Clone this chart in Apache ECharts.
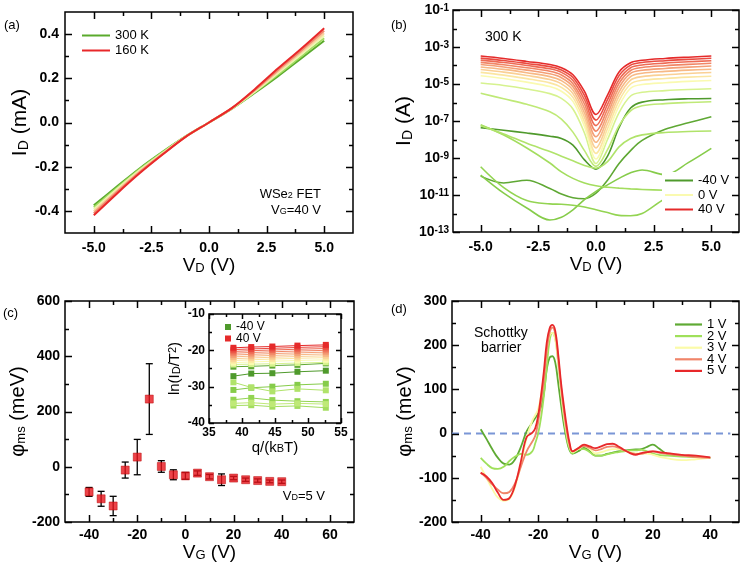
<!DOCTYPE html>
<html><head><meta charset="utf-8">
<script src="https://cdn.jsdelivr.net/npm/echarts@6/dist/echarts.min.js"></script>
<style>html,body{margin:0;padding:0;background:#fff}#c{width:745px;height:571px}</style>
</head><body><div id="c"></div>
<script>
// ---------------- DATA ----------------
// (a) I-V at VG = 40 V for several temperatures
const aVD = [-5,-4,-3,-2,-1,0,1,2,3,4,5];
const aTemps = ['300 K','270 K','240 K','210 K','185 K','160 K'];
const aID_300 = [-0.375,-0.290,-0.207,-0.132,-0.062,0,0.063,0.135,0.210,0.290,0.370];
const aID_270 = [-0.384,-0.296,-0.211,-0.134,-0.062,0,0.063,0.138,0.217,0.299,0.381];
const aID_240 = [-0.393,-0.302,-0.215,-0.137,-0.063,0,0.064,0.141,0.224,0.308,0.393];
const aID_210 = [-0.402,-0.309,-0.220,-0.139,-0.063,0,0.065,0.145,0.231,0.317,0.404];
const aID_185 = [-0.411,-0.315,-0.224,-0.142,-0.064,0,0.065,0.148,0.238,0.325,0.415];
const aID_160 = [-0.420,-0.322,-0.229,-0.144,-0.064,0,0.066,0.152,0.245,0.334,0.427];

// (b) log10(I_D / A) vs VD at 300 K, for VG = -40 ... 40 V
const bVD = [-5,-4,-3,-2,-1.5,-1,-0.5,0,0.5,1,1.5,2,3,4,5];
const bVG = [-40,-35,-30,-25,-20,-15,-10,-5,0,5,10,15,20,25,30,35,40];
const bLog_m40 = [-7.36,-7.50,-7.65,-7.82,-7.94,-8.30,-9.10,-9.60,-8.90,-7.35,-6.30,-5.98,-5.85,-5.80,-5.78];
const bLog_m35 = [-9.98,-10.35,-10.20,-10.65,-10.95,-11.15,-11.20,-10.90,-10.20,-9.30,-8.60,-8.05,-7.45,-7.10,-6.77];
const bLog_m30 = [-9.92,-10.90,-11.70,-12.35,-12.20,-11.80,-11.25,-10.80,-10.45,-10.10,-9.80,-9.65,-9.90,-9.25,-8.48];
const bLog_m25 = [-9.47,-10.60,-11.30,-11.48,-11.50,-11.55,-11.65,-11.80,-11.95,-12.10,-12.12,-12.00,-11.20,-10.75,-10.50];
const bLog_m20 = [-7.20,-7.76,-8.46,-9.27,-9.75,-10.10,-10.35,-10.50,-10.58,-10.63,-10.67,-10.70,-10.74,-10.77,-10.78];
const bLog_m15 = [-7.25,-7.70,-8.20,-8.65,-8.90,-9.15,-9.40,-9.55,-9.20,-8.40,-7.95,-7.75,-7.62,-7.57,-7.54];
const bLog_m10 = [-5.50,-5.80,-6.10,-6.50,-6.90,-7.60,-8.60,-9.45,-8.55,-7.25,-6.45,-6.18,-6.06,-6.00,-5.96];
const bLog_m5  = [-4.95,-5.08,-5.27,-5.52,-5.78,-6.35,-7.65,-9.30,-8.00,-6.55,-5.65,-5.45,-5.36,-5.30,-5.26];
const bLog_0   = [-4.55,-4.70,-4.90,-5.14,-5.39,-5.94,-7.30,-9.05,-7.70,-6.18,-5.23,-5.03,-4.93,-4.86,-4.81];
const bLog_p5  = [-4.37,-4.52,-4.71,-4.94,-5.18,-5.72,-7.05,-8.75,-7.42,-5.91,-5.00,-4.80,-4.70,-4.63,-4.58];
const bLog_p10 = [-4.22,-4.36,-4.54,-4.76,-4.99,-5.52,-6.80,-8.45,-7.15,-5.66,-4.79,-4.60,-4.50,-4.43,-4.38];
const bLog_p15 = [-4.08,-4.21,-4.39,-4.60,-4.82,-5.33,-6.56,-8.15,-6.88,-5.42,-4.60,-4.42,-4.32,-4.25,-4.20];
const bLog_p20 = [-3.95,-4.08,-4.25,-4.45,-4.66,-5.15,-6.32,-7.85,-6.62,-5.19,-4.43,-4.26,-4.16,-4.09,-4.03];
const bLog_p25 = [-3.83,-3.96,-4.12,-4.31,-4.51,-4.98,-6.08,-7.55,-6.36,-4.97,-4.27,-4.11,-4.01,-3.94,-3.88];
const bLog_p30 = [-3.71,-3.84,-4.00,-4.18,-4.37,-4.81,-5.85,-7.25,-6.10,-4.76,-4.12,-3.97,-3.87,-3.80,-3.74];
const bLog_p35 = [-3.60,-3.73,-3.89,-4.06,-4.24,-4.65,-5.62,-6.95,-5.85,-4.55,-3.98,-3.84,-3.74,-3.67,-3.61];
const bLog_p40 = [-3.49,-3.62,-3.78,-3.95,-4.12,-4.50,-5.40,-6.65,-5.60,-4.35,-3.85,-3.72,-3.62,-3.55,-3.49];

// (c) barrier height vs VG at VD = 5 V
const cVG  = [-40,-35,-30,-25,-20,-15,-10,-5,0,5,10,15,20,25,30,35,40];
const cPhi = [-91,-116,-142,-12,35,245,1,-29,-33,-23,-36,-47,-41,-47,-50,-53,-54];
const cErr = [16,27,35,29,64,128,21,18,12,8,8,21,6,6,6,5,6];

// (c) inset: ln(I_D/T^2) vs q/(kB T)
const insX = [38.7,41.4,44.6,48.4,52.7];
const ins_m40 = [-27.1,-26.4,-26.3,-25.9,-25.6];
const ins_m35 = [-24.5,-24.4,-24.2,-24.0,-23.6];
const ins_m30 = [-30.9,-30.3,-30.0,-29.5,-29.2];
const ins_m25 = [-33.6,-33.1,-33.7,-34.0,-34.2];
const ins_m20 = [-35.2,-35.1,-35.5,-35.3,-35.8];
const ins_m15 = [-28.8,-30.2,-31.3,-30.6,-31.0];
const ins_m10 = [-34.6,-34.4,-34.8,-34.6,-34.8];
const ins_m5  = [-23.9,-23.8,-23.7,-23.5,-23.3];
const ins_0   = [-23.4,-23.2,-23.0,-22.8,-22.6];
const ins_p5  = [-22.8,-22.6,-22.4,-22.2,-22.0];
const ins_p10 = [-22.3,-22.1,-21.9,-21.7,-21.5];
const ins_p15 = [-21.8,-21.6,-21.4,-21.2,-21.0];
const ins_p20 = [-21.3,-21.1,-20.9,-20.7,-20.5];
const ins_p25 = [-20.8,-20.6,-20.4,-20.2,-20.0];
const ins_p30 = [-20.3,-20.1,-19.9,-19.7,-19.5];
const ins_p35 = [-19.8,-19.6,-19.45,-19.2,-19.0];
const ins_p40 = [-19.3,-19.1,-18.95,-18.7,-18.5];

// (d) barrier height vs VG for VD = 1..5 V
const dVG = [-40,-38,-36,-34,-32,-30,-28,-26,-24,-22,-21,-20,-19,-18,-17,-16,-15,-14,-13,-12,-11,-10,-9,-8,-6,-4,-2,0,2,4,6,8,10,12,14,16,18,20,22,25,30,35,40];
const dVD = ['1 V','2 V','3 V','4 V','5 V'];
const dPhi_1 = [10,-12,-35,-55,-68,-70,-58,-30,5,25,35,45,60,90,145,172,175,160,115,65,20,-15,-38,-45,-40,-32,-40,-50,-50,-46,-43,-40,-38,-37,-36,-35,-30,-25,-33,-46,-50,-52,-55];
const dPhi_2 = [-55,-68,-78,-80,-75,-62,-52,-46,-48,-40,-22,0,35,85,150,210,228,215,160,95,35,-10,-35,-45,-35,-35,-42,-50,-50,-47,-44,-42,-40,-38,-38,-37,-40,-45,-48,-50,-52,-53,-55];
const dPhi_3 = [-75,-100,-125,-145,-152,-148,-120,-70,-10,30,42,55,85,130,190,222,228,212,160,95,40,0,-30,-42,-35,-28,-35,-45,-42,-38,-35,-35,-38,-42,-45,-45,-45,-48,-52,-56,-60,-58,-55];
const dPhi_4 = [-88,-100,-115,-127,-135,-132,-112,-75,-40,-18,-5,25,70,120,185,228,240,225,170,105,50,5,-28,-40,-33,-28,-32,-38,-35,-30,-29,-32,-38,-43,-46,-46,-42,-40,-43,-46,-50,-53,-55];
const dPhi_5 = [-89,-97,-112,-134,-150,-146,-116,-63,-8,2,12,40,85,140,205,238,246,232,180,115,62,15,-22,-40,-33,-25,-29,-33,-29,-24,-23,-29,-37,-44,-48,-44,-42,-40,-42,-44,-48,-50,-54];

// tick values
const aXTicks = [-5,-2.5,0,2.5,5];
const aXMinor = [-3.75,-1.25,1.25,3.75];
const aYTicks = [-0.4,-0.2,0,0.2,0.4];
const aYMinor = [-0.3,-0.1,0.1,0.3];
const bYTickExp = [-13,-11,-9,-7,-5,-3,-1];
const bYMinorExp = [-12,-10,-8,-6,-4,-2];
const cXTicks = [-40,-20,0,20,40,60];
const cXMinor = [-30,-10,10,30,50];
const cYTicks = [-200,0,200,400,600];
const cYMinor = [-100,100,300,500];
const insXTicks = [35,40,45,50,55];
const insXMinor = [37.5,42.5,47.5,52.5];
const insYTicks = [-40,-30,-20,-10];
const insYMinor = [-35,-25,-15];
const dXTicks = [-40,-20,0,20,40];
const dXMinor = [-30,-10,10,30];
const dYTicks = [-200,-100,0,100,200,300];
const dYMinor = [-150,-50,50,150,250];

// ---------------- STYLE ----------------
const FONT = 'Liberation Sans, Arial, Helvetica, sans-serif';
const aColors = ['#5aaa2c','#a2dc62','#eef7b0','#f9cf9c','#f08a6e','#e8282a'];
const vgColors = ['#4f9a2c','#5fa834','#86cc4a','#93d452','#a3dd5e','#b0e36a','#bfe977','#d6f28f','#fafab0',
  '#fbe6a2','#fad095','#f7b986','#f4a077','#f18666','#ee6a54','#ea4b40','#e52a2a'];
const dColors = ['#5faa34','#9fe05a','#fbfba8','#f0856a','#e8282a'];

const grids = [], xAxes = [], yAxes = [];
function makeAxis(gi, dim, o){
  const arr = dim === 'x' ? xAxes : yAxes;
  const label = {show:true, color:'#000', fontWeight:'bold', fontSize: o.fs || 14, fontFamily: FONT,
                 margin: o.margin || 6, formatter: o.fmt};
  if (o.rich) label.rich = o.rich;
  const ax = {type: o.type || 'value', gridIndex: gi, position: dim === 'x' ? 'bottom' : 'left',
    min: o.min, max: o.max, splitLine:{show:false},
    axisLine:{show:false, onZero:false}, axisTick:{show:false}, axisLabel: label,
    name: o.name, nameLocation:'middle', nameGap: o.nameGap,
    nameTextStyle: {fontSize: o.nfs || 19, fontFamily: FONT, color:'#000', rich: o.nrich}};
  if (o.type === 'log') { ax.logBase = 10; ax.interval = 1; }
  else { label.customValues = o.major; }
  arr.push(ax);
  return arr.length - 1;
}
const subRich = (fs) => ({s: {fontSize: fs, fontFamily: FONT, color:'#000', verticalAlign:'bottom', lineHeight: fs},
                          p: {fontSize: fs, fontFamily: FONT, color:'#000', verticalAlign:'top', lineHeight: fs}});
const fmt1 = v => v.toFixed(1);
const fmt0 = v => String(v);
const legendFmt = n => n.split('::')[1];
const legText = (fs) => ({fontSize: fs, fontFamily: FONT, color:'#000'});

// grids (box drawn by grid border)
[[65,12,288,221],[453,10,286,222],[65,301,289,221],[209,314,132,109],[452,301,287,221]].forEach(r => {
  grids.push({left:r[0], top:r[1], width:r[2], height:r[3], show:true, borderColor:'#000', borderWidth:1.5,
              backgroundColor:'transparent'});
});
const gA = 0, gB = 1, gC = 2, gI = 3, gD = 4;

const axA = makeAxis(gA, 'x', {min:-6.25, max:6.25, major:aXTicks, fmt:fmt1,
  name:'V{s|D} (V)', nameGap:20, nrich: subRich(13), margin:8});
const ayA = makeAxis(gA, 'y', {min:-0.5, max:0.5, major:aYTicks, fmt:fmt1,
  name:'I{s|D} (mA)', nameGap:31, nfs:21, nrich: subRich(14), margin:6});
const axB = makeAxis(gB, 'x', {min:-6.2, max:6.2, major:aXTicks, fmt:fmt1,
  name:'V{s|D} (V)', nameGap:20, nrich: subRich(13), margin:8});
const ayB = makeAxis(gB, 'y', {type:'log', min:1e-13, max:1e-1,
  fmt: v => { const e = Math.round(Math.log10(v)); return (e % 2 !== 0) ? '10{p|' + e + '}' : ''; },
  rich: {p: {fontSize: 10, fontWeight:'bold', fontFamily: FONT, color:'#000', verticalAlign:'top', lineHeight:10}},
  name:'I{s|D} (A)', nameGap:36, nfs:21, nrich: subRich(14), margin:4});
const axC = makeAxis(gC, 'x', {min:-50, max:70, major:cXTicks, fmt:fmt0,
  name:'V{s|G} (V)', nameGap:18, nrich: subRich(13), margin:6});
const ayC = makeAxis(gC, 'y', {min:-200, max:600, major:cYTicks, fmt:fmt0,
  name:'φ{s|ms} (meV)', nameGap:32, nfs:20, nrich: subRich(13), margin:5});
const axI = makeAxis(gI, 'x', {min:35, max:55, major:insXTicks, fmt:fmt0, fs:12,
  name:'q/(k{s|B}T)', nameGap:16, nfs:15, nrich: subRich(11), margin:4});
const ayI = makeAxis(gI, 'y', {min:-40, max:-10, major:insYTicks, fmt:fmt0, fs:12,
  name:'ln(I{s|D}/T{p|2})', nameGap:27, nfs:15, nrich: subRich(11), margin:4});
const axD = makeAxis(gD, 'x', {min:-50, max:50, major:dXTicks, fmt:fmt0,
  name:'V{s|G} (V)', nameGap:18, nrich: subRich(13), margin:6});
const ayD = makeAxis(gD, 'y', {min:-200, max:300, major:dYTicks, fmt:fmt0,
  name:'φ{s|ms} (meV)', nameGap:37, nfs:20, nrich: subRich(13), margin:5});

// ---------------- SERIES ----------------
const series = [];
// inward ticks on all four sides, placed through each panel's scales
function tickSeries(xi, yi, xMin, yMin, xMaj, xMnr, yMaj, yMnr, L) {
  const data = [];
  xMaj.forEach(v => data.push([v, yMin, 0, 1]));
  xMnr.forEach(v => data.push([v, yMin, 0, 0]));
  yMaj.forEach(v => data.push([xMin, v, 1, 1]));
  yMnr.forEach(v => data.push([xMin, v, 1, 0]));
  return {type:'custom', name:'ticks', xAxisIndex:xi, yAxisIndex:yi, silent:true, z:6, clip:false,
    renderItem: (params, api) => {
      const cs = params.coordSys;
      const p = api.coord([api.value(0), api.value(1)]);
      const len = api.value(3) ? L[0] : L[1];
      const st = {stroke:'#000', lineWidth:1.5};
      if (api.value(2) === 0) {
        const x = Math.round(p[0]) + 0.5, y0 = cs.y + cs.height, y1 = cs.y;
        return {type:'group', children:[
          {type:'line', shape:{x1:x, y1:y0, x2:x, y2:y0 - len}, style:st},
          {type:'line', shape:{x1:x, y1:y1, x2:x, y2:y1 + len}, style:st}]};
      }
      const y = Math.round(p[1]) + 0.5, x0 = cs.x, x1 = cs.x + cs.width;
      return {type:'group', children:[
        {type:'line', shape:{x1:x0, y1:y, x2:x0 + len, y2:y}, style:st},
        {type:'line', shape:{x1:x1, y1:y, x2:x1 - len, y2:y}, style:st}]};
    }, data};
}
series.push(tickSeries(axA, ayA, -6.25, -0.5, aXTicks, aXMinor, aYTicks, aYMinor, [7,4]));
series.push(tickSeries(axB, ayB, -6.2, 1e-13, aXTicks, aXMinor,
  bYTickExp.map(e => Math.pow(10, e)), bYMinorExp.map(e => Math.pow(10, e)), [7,4]));
series.push(tickSeries(axC, ayC, -50, -200, cXTicks, cXMinor, cYTicks, cYMinor, [7,4]));
series.push(tickSeries(axI, ayI, 35, -40, insXTicks, insXMinor, insYTicks, insYMinor, [5,3]));
series.push(tickSeries(axD, ayD, -50, -200, dXTicks, dXMinor, dYTicks, dYMinor, [7,4]));

// (a)
[aID_300, aID_270, aID_240, aID_210, aID_185, aID_160].forEach((arr, i) => {
  series.push({type:'line', name:'a::' + aTemps[i], xAxisIndex:axA, yAxisIndex:ayA, symbol:'none', smooth:0.3,
    lineStyle:{color:aColors[i], width:2}, itemStyle:{color:aColors[i]},
    data: aVD.map((x, k) => [x, arr[k]])});
});
// (b)
const bCurves = [bLog_m40,bLog_m35,bLog_m30,bLog_m25,bLog_m20,bLog_m15,bLog_m10,bLog_m5,bLog_0,
                 bLog_p5,bLog_p10,bLog_p15,bLog_p20,bLog_p25,bLog_p30,bLog_p35,bLog_p40];
bCurves.forEach((arr, i) => {
  series.push({type:'line', name:'b::' + bVG[i] + ' V', xAxisIndex:axB, yAxisIndex:ayB, symbol:'none', smooth:0.35,
    lineStyle:{color:vgColors[i], width:1.6}, itemStyle:{color:vgColors[i]},
    data: bVD.map((x, k) => [x, Math.pow(10, arr[k])])});
});
// (c) error bars + points
series.push({type:'custom', name:'c::err', xAxisIndex:axC, yAxisIndex:ayC, z:3,
  renderItem: (params, api) => {
    const x = api.value(0), y = api.value(1), e = api.value(2);
    const t = api.coord([x, y + e]), b = api.coord([x, y - e]);
    const w = 3.5, st = {stroke:'#000', lineWidth:1.3};
    return {type:'group', children:[
      {type:'line', shape:{x1:t[0], y1:t[1], x2:b[0], y2:b[1]}, style:st},
      {type:'line', shape:{x1:t[0]-w, y1:t[1], x2:t[0]+w, y2:t[1]}, style:st},
      {type:'line', shape:{x1:b[0]-w, y1:b[1], x2:b[0]+w, y2:b[1]}, style:st}]};
  },
  data: cVG.map((v, i) => [v, cPhi[i], cErr[i]])});
series.push({type:'scatter', name:'c::phi', xAxisIndex:axC, yAxisIndex:ayC, z:4, symbol:'rect', symbolSize:8,
  itemStyle:{color:'#e8141c', borderColor:'#b80000', borderWidth:0.6},
  data: cVG.map((v, i) => [v, cPhi[i]])});
// (c) inset
const insCurves = [ins_m40,ins_m35,ins_m30,ins_m25,ins_m20,ins_m15,ins_m10,ins_m5,ins_0,
                   ins_p5,ins_p10,ins_p15,ins_p20,ins_p25,ins_p30,ins_p35,ins_p40];
insCurves.forEach((arr, i) => {
  series.push({type:'line', name:'i::' + bVG[i] + ' V', xAxisIndex:axI, yAxisIndex:ayI, symbol:'rect', symbolSize:6,
    showSymbol:true, lineStyle:{color:vgColors[i], width:1}, itemStyle:{color:vgColors[i]},
    data: insX.map((x, k) => [x, arr[k]])});
});
// (d)
series.push({type:'line', name:'d::zero', xAxisIndex:axD, yAxisIndex:ayD, symbol:'none',
  lineStyle:{color:'#7a96d6', width:2, type:[7,5]}, data:[[-50,0],[47,0]]});
[dPhi_1, dPhi_2, dPhi_3, dPhi_4, dPhi_5].forEach((arr, i) => {
  series.push({type:'line', name:'d::' + dVD[i], xAxisIndex:axD, yAxisIndex:ayD, symbol:'none', smooth:0.4,
    lineStyle:{color:dColors[i], width:1.8}, itemStyle:{color:dColors[i]},
    data: dVG.map((x, k) => [x, arr[k]])});
});

// ---------------- LEGENDS ----------------
const legends = [
  {data:['a::300 K','a::160 K'], left:82, top:29, orient:'vertical', icon:'rect', itemWidth:28, itemHeight:2, itemGap:2,
   padding:0, formatter:legendFmt, textStyle:legText(13)},
  {data:['b::-40 V','b::0 V','b::40 V'], left:662, top:172, orient:'vertical', icon:'rect', itemWidth:28, itemHeight:2, itemGap:1.5,
   padding:[2,4,2,3], backgroundColor:'#fff', formatter:legendFmt, textStyle:legText(13)},
  {data:['i::-40 V','i::40 V'], left:225, top:321, orient:'vertical', icon:'rect', itemWidth:6, itemHeight:6, itemGap:-0.5,
   padding:0, formatter:legendFmt, textStyle:legText(12)},
  {data:dVD.map(n => 'd::' + n), left:675, top:318, orient:'vertical', icon:'rect', itemWidth:27, itemHeight:2.2, itemGap:-1.4,
   padding:0, formatter:legendFmt, textStyle:legText(13)}
];

// ---------------- TEXT ----------------
const T = (x, y, text, fs, align) => ({type:'text', x, y, z:10,
  style:{text, fontSize: fs, fontFamily: FONT, fill:'#000', align: align || 'left', verticalAlign:'middle',
         rich:{s:{fontSize: fs - 4, fontFamily: FONT, fill:'#000', verticalAlign:'bottom', lineHeight: fs - 4}}}});
const graphic = [
  T(4, 25, '(a)', 13), T(391, 25, '(b)', 13), T(3, 313, '(c)', 13), T(391, 309, '(d)', 13),
  T(485, 37, '300 K', 14),
  T(321, 194, 'WSe{s|2} FET', 13, 'right'), T(321, 210, 'V{s|G}=40 V', 13, 'right'),
  T(325, 496, 'V{s|D}=5 V', 13, 'right'),
  T(474, 333, 'Schottky', 14), T(481, 348, 'barrier', 14)
];

const chart = echarts.init(document.getElementById('c'), null, {renderer:'canvas'});
chart.setOption({
  animation:false, backgroundColor:'#fff',
  grid: grids, xAxis: xAxes, yAxis: yAxes, legend: legends, series, graphic
});
</script></body></html>
